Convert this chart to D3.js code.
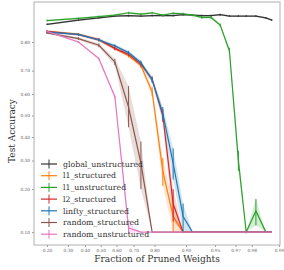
<!DOCTYPE html>
<meta charset="utf-8">
<body style="margin:0;background:#fff">
<script src="https://d3js.org/d3.v7.min.js"></script>
<script>
var width = 284,
    height = 270;

// pruning fractions (x) of each measured point
var fractions = [0.2, 0.36, 0.488, 0.59, 0.672, 0.738, 0.79, 0.832, 0.866, 0.893,
                 0.914, 0.931, 0.945, 0.956, 0.965, 0.972, 0.977, 0.982, 0.986, 0.988];
var xTicks = [0.2, 0.3, 0.4, 0.5, 0.6, 0.7, 0.8, 0.9, 0.95, 0.97, 0.98, 0.99];
var yTicks = [0.1, 0.2, 0.3, 0.4, 0.5, 0.6, 0.7, 0.8];

var names = ['global_unstructured', 'l1_structured', 'l1_unstructured', 'l2_structured',
             'linfty_structured', 'random_structured', 'random_unstructured'];
var colors = ['#333333', '#ff7f0e', '#2ca02c', '#d62728', '#1f77b4', '#8c564b', '#e377c2'];

var globalMean = [0.848, 0.858, 0.863, 0.867, 0.868, 0.867, 0.868, 0.868, 0.868, 0.870,
                  0.869, 0.868, 0.868, 0.870, 0.867, 0.867, 0.867, 0.867, 0.863, 0.858];
var globalErr  = [0.002, 0.002, 0.002, 0.002, 0.002, 0.002, 0.002, 0.002, 0.002, 0.002,
                  0.002, 0.002, 0.002, 0.002, 0.002, 0.002, 0.002, 0.002, 0.002, 0.002];
var l1sMean = [0.830, 0.823, 0.806, 0.780, 0.755, 0.720, 0.610, 0.260, 0.130, 0.100,
               0.100, 0.100, 0.100, 0.100, 0.100, 0.100, 0.100, 0.100, 0.100, 0.100];
var l1sErr  = [0.003, 0.003, 0.004, 0.005, 0.006, 0.010, 0.020, 0.050, 0.030, 0.000,
               0, 0, 0, 0, 0, 0, 0, 0, 0, 0];
var l1uMean = [0.857, 0.862, 0.866, 0.869, 0.874, 0.871, 0.874, 0.869, 0.873, 0.872,
               0.869, 0.864, 0.864, 0.846, 0.772, 0.300, 0.100, 0.142, 0.100, 0.100];
var l1uErr  = [0.002, 0.002, 0.002, 0.002, 0.002, 0.002, 0.002, 0.002, 0.002, 0.002,
               0.002, 0.003, 0.003, 0.004, 0.010, 0.040, 0.000, 0.030, 0.000, 0.000];
var l2sMean = [0.830, 0.821, 0.807, 0.780, 0.760, 0.725, 0.665, 0.500, 0.160, 0.100,
               0.100, 0.100, 0.100, 0.100, 0.100, 0.100, 0.100, 0.100, 0.100, 0.100];
var l2sErr  = [0.003, 0.003, 0.005, 0.006, 0.006, 0.008, 0.012, 0.030, 0.040, 0.000,
               0, 0, 0, 0, 0, 0, 0, 0, 0, 0];
var linfMean = [0.828, 0.822, 0.806, 0.788, 0.766, 0.730, 0.661, 0.510, 0.290, 0.130,
                0.100, 0.100, 0.100, 0.100, 0.100, 0.100, 0.100, 0.100, 0.100, 0.100];
var linfErr  = [0.003, 0.003, 0.004, 0.005, 0.006, 0.008, 0.012, 0.030, 0.060, 0.030,
                0, 0, 0, 0, 0, 0, 0, 0, 0, 0];
var randsMean = [0.826, 0.810, 0.790, 0.733, 0.540, 0.290, 0.100, 0.100, 0.100, 0.100,
                 0.100, 0.100, 0.100, 0.100, 0.100, 0.100, 0.100, 0.100, 0.100, 0.100];
var randsErr  = [0.003, 0.004, 0.006, 0.012, 0.095, 0.090, 0.000, 0, 0, 0,
                 0, 0, 0, 0, 0, 0, 0, 0, 0, 0];
var randuMean = [0.830, 0.800, 0.745, 0.588, 0.107, 0.100, 0.100, 0.100, 0.100, 0.100,
                 0.100, 0.100, 0.100, 0.100, 0.100, 0.100, 0.100, 0.100, 0.100, 0.100];
var randuErr  = [0.002, 0.003, 0.004, 0.006, 0.010, 0.000, 0, 0, 0, 0,
                 0, 0, 0, 0, 0, 0, 0, 0, 0, 0];

var means = [globalMean, l1sMean, l1uMean, l2sMean, linfMean, randsMean, randuMean];
var errs = [globalErr, l1sErr, l1uErr, l2sErr, linfErr, randsErr, randuErr];

var margin = {left: 34, right: 4, top: 2, bottom: 25};

function logit(p) { p = Math.min(Math.max(p, 0.02), 0.998); return Math.log(p / (1 - p)); }

// logit axes, built on linear scales over logit(p)
var xLin = d3.scaleLinear().domain([-1.72, 4.62]).range([margin.left, width - margin.right]);
var yLin = d3.scaleLinear().domain([-2.44, 2.14]).range([height - margin.bottom, margin.top]);
var x = function(p) { return xLin(logit(p)); };
var y = function(p) { return yLin(logit(p)); };

var svg = d3.select("body").append("svg")
    .attr("width", width)
    .attr("height", height)
    .style("font-family", "'DejaVu Serif', serif");

var fmt = d3.format(".2f");

var xAxis = svg.append("g")
    .attr("transform", "translate(0," + (height - margin.bottom) + ")")
    .call(d3.axisBottom(xLin).tickValues(xTicks.map(logit)).tickFormat(function(d, i) { return fmt(xTicks[i]); }).tickSize(2).tickPadding(2));
var yAxis = svg.append("g")
    .attr("transform", "translate(" + margin.left + ",0)")
    .call(d3.axisLeft(yLin).tickValues(yTicks.map(logit)).tickFormat(function(d, i) { return fmt(yTicks[i]); }).tickSize(2).tickPadding(2));
[xAxis, yAxis].forEach(function(a) {
    a.select(".domain").remove();
    a.selectAll(".tick line").attr("stroke", "#999");
    a.selectAll(".tick text").attr("fill", "#666").style("font-size", "4.3px").style("font-family", "'DejaVu Serif', serif");
});

// box
svg.append("rect")
    .attr("x", margin.left).attr("y", margin.top)
    .attr("width", width - margin.left - margin.right)
    .attr("height", height - margin.top - margin.bottom)
    .attr("fill", "none").attr("stroke", "#b0b0b0").attr("stroke-width", 1);

var plot = svg.append("g");

means.forEach(function(m, k) {
    var pts = m.map(function(v, i) { return {x: fractions[i], v: v, e: errs[k][i]}; });
    var area = d3.area()
        .x(function(d) { return x(d.x); })
        .y0(function(d) { return y(d.v - d.e); })
        .y1(function(d) { return y(d.v + d.e); });
    plot.append("path").datum(pts)
        .attr("d", area)
        .attr("fill", colors[k]).attr("fill-opacity", 0.2);
    var line = d3.line()
        .x(function(d) { return x(d.x); })
        .y(function(d) { return y(d.v); });
    plot.append("path").datum(pts)
        .attr("d", line)
        .attr("fill", "none").attr("stroke", colors[k]).attr("stroke-width", 1.2);
    plot.selectAll(null).data(pts.filter(function(d) { return d.e > 0; }))
        .enter().append("line")
        .attr("x1", function(d) { return x(d.x); })
        .attr("x2", function(d) { return x(d.x); })
        .attr("y1", function(d) { return y(d.v - d.e); })
        .attr("y2", function(d) { return y(d.v + d.e); })
        .attr("stroke", colors[k]).attr("stroke-width", 1);
});

// legend
var legend = svg.append("g").attr("transform", "translate(41,164)");
names.forEach(function(n, k) {
    var g = legend.append("g").attr("transform", "translate(0," + (k * 11.7) + ")");
    g.append("line").attr("x1", 0).attr("x2", 16).attr("y1", 0).attr("y2", 0)
        .attr("stroke", colors[k]).attr("stroke-width", 1.2);
    g.append("line").attr("x1", 8).attr("x2", 8).attr("y1", -4.5).attr("y2", 4.5)
        .attr("stroke", colors[k]).attr("stroke-width", 1);
    g.append("text").attr("x", 22).attr("y", 0).attr("dy", "0.35em")
        .style("font-size", "7.8px").attr("fill", "#333").text(n);
});

svg.append("text")
    .attr("x", (margin.left + width - margin.right) / 2)
    .attr("y", 262)
    .attr("text-anchor", "middle")
    .style("font-size", "9px").attr("fill", "#333")
    .text("Fraction of Pruned Weights");

svg.append("text")
    .attr("transform", "translate(15,131) rotate(-90)")
    .attr("text-anchor", "middle")
    .style("font-size", "9px").attr("fill", "#333")
    .text("Test Accuracy");
</script>
</body>
